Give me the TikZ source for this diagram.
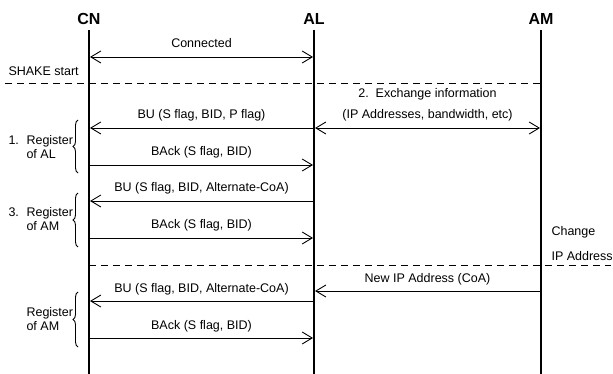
\documentclass[tikz,border=0pt]{standalone}
\usepackage{fontspec}
\setmainfont{Liberation Sans}
\usetikzlibrary{arrows.meta,decorations.pathreplacing,positioning}

\begin{document}
\begin{tikzpicture}[x=1pt, y=-1pt,
        every node/.style={font=\fontsize{12.5}{14}\selectfont},
        entity/.style={font=\fontsize{16}{18}\selectfont\bfseries},
        life/.style={line width=2.5pt},
        msg/.style={line width=0.9pt, shorten >=1pt, -{Straight Barb[length=10pt,width=12pt]}},
        both/.style={line width=0.9pt, shorten >=1pt, shorten <=1pt,
            {Straight Barb[length=10pt,width=12pt]}-{Straight Barb[length=10pt,width=12pt]}},
        sep/.style={line width=0.9pt, dash pattern=on 7pt off 5pt},
        lbl/.style={anchor=base, yshift=9pt},
        side/.style={anchor=west, align=left},
        grp/.style={decorate, decoration={brace, amplitude=5pt}, line width=0.9pt}]

    \useasboundingbox (0, 0) rectangle (613, 374);

        %%entities
        \node[entity] (CN) at (89, 19){CN};
        \node[entity] (AL) at (314, 19){AL};
        \node[entity] (AM) at (541, 19){AM};
            \draw[life] (CN |- 0, 30) to (CN |- 0, 374);
            \draw[life] (AL |- 0, 30) to (AL |- 0, 374);
            \draw[life] (AM |- 0, 30) to (AM |- 0, 374);
        \coordinate (rim) at (611, 0);

        %%connected
        \draw[both] (CN |- 0, 57) to node[lbl] (conn){Connected} (AL |- 0, 57);

        %%shake start
        \node[anchor=west] (shake) at (5, 71){SHAKE start};
            \draw[sep] (shake.west |- 0, 83) to (AM |- 0, 83);

        %%1. register of AL
        \draw[msg] (AL |- 0, 128) to node[lbl] (bu1){BU (S flag, BID, P flag)} (CN |- 0, 128);
        \draw[msg] (CN |- 0, 165) to node[lbl] (back1){BAck (S flag, BID)} (AL |- 0, 165);
            \draw[grp] (78, 173) to (78, 120);
            \node[anchor=west] (num1) at (5, 140.5){1.};
            \node[side] (reg1) at (23, 147){Register\\of AL};

        %%2. exchange information
        \draw[both] (AL |- 0, 128) to node[lbl] (info){(IP Addresses, bandwidth, etc)} (AM |- 0, 128);
            \node[anchor=base] (xchg) at ([yshift=21.5pt]info.base){2.\ \ Exchange information};

        %%3. register of AM
        \draw[msg] (AL |- 0, 201) to node[lbl] (bu2){BU (S flag, BID, Alternate-CoA)} (CN |- 0, 201);
        \draw[msg] (CN |- 0, 238) to node[lbl] (back2){BAck (S flag, BID)} (AL |- 0, 238);
            \draw[grp] (78, 247) to (78, 193);
            \node[anchor=west] (num3) at (5, 212){3.};
            \node[side] (reg3) at (23, 219){Register\\of AM};

        %%change IP address
        \node[side] (chg) at (548, 232){Change};
        \node[side] (chip) at (548, 256){IP Address};
            \draw[sep] (CN |- 0, 265) to (rim |- 0, 265);
        \draw[msg] (AM |- 0, 291) to node[lbl] (coa){New IP Address (CoA)} (AL |- 0, 291);

        %%register of AM again
        \draw[msg] (AL |- 0, 301) to node[lbl] (bu3){BU (S flag, BID, Alternate-CoA)} (CN |- 0, 301);
        \draw[msg] (CN |- 0, 338) to node[lbl] (back3){BAck (S flag, BID)} (AL |- 0, 338);
            \draw[grp] (78, 347) to (78, 292);
            \node[side] (reg4) at (23, 319){Register\\of AM};
    \end{tikzpicture}
\end{document}
